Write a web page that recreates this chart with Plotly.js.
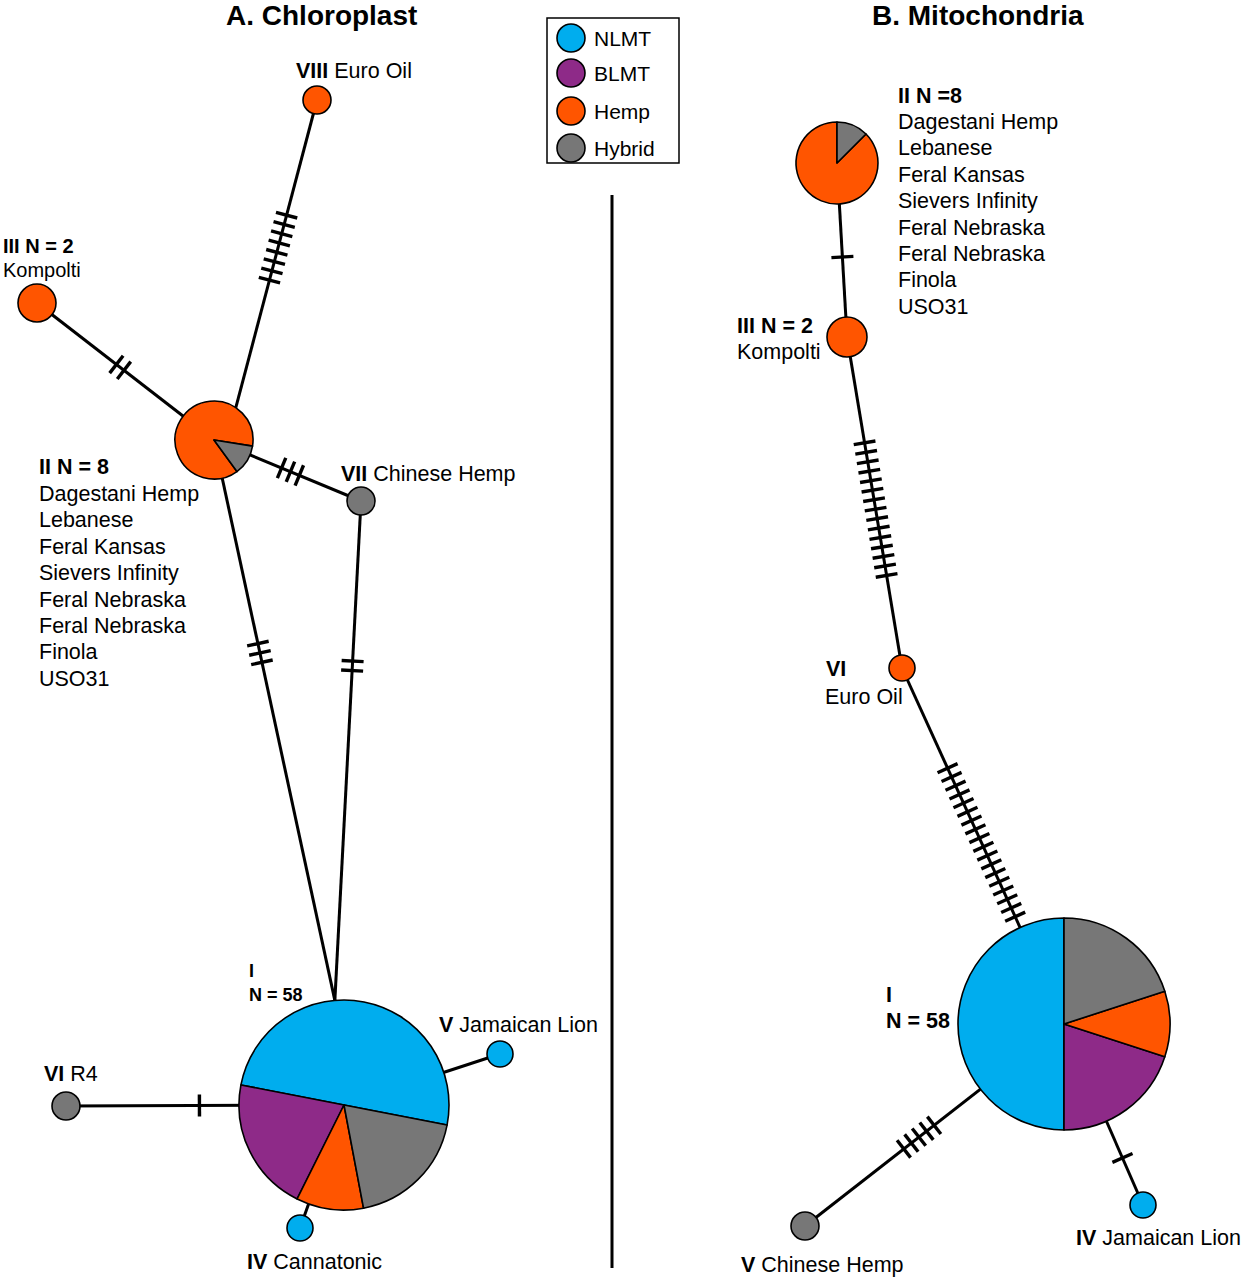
<!DOCTYPE html>
<html>
<head>
<meta charset="utf-8">
<script src="https://cdn.plot.ly/plotly-3.0.1.min.js"></script>
<style>
  html, body { margin: 0; padding: 0; background: #fff; }
  #plot { width: 1247px; height: 1280px; }
</style>
</head>
<body>
<div id="plot"></div>
<script>
const W = 1247
const H = 1280

// groups
const categories = ["NLMT", "BLMT", "Hemp", "Hybrid"]
const catColors = ["#00ADEE", "#8E2A88", "#FF5500", "#777777"]

// A. chloroplast haplotypes, counts per group
const cpHaplotypes = ["I", "II", "III", "IV", "V", "VI", "VII", "VIII"]
const cpNLMT   = [29, 0, 0, 1, 1, 0, 0, 0]
const cpBLMT   = [12, 0, 0, 0, 0, 0, 0, 0]
const cpHemp   = [6, 7, 2, 0, 0, 0, 0, 1]
const cpHybrid = [11, 1, 0, 0, 0, 1, 1, 0]
// edges and number of mutations on each
const cpEdgeFrom  = ["VIII", "III", "II", "II", "VII", "VI", "V", "IV"]
const cpEdgeTo    = ["II", "II", "VII", "I", "I", "I", "I", "I"]
const cpMutations = [8, 2, 3, 3, 2, 1, 0, 0]

// B. mitochondria haplotypes (slice sizes as drawn in the pie)
const mtHaplotypes = ["I", "II", "III", "IV", "V", "VI"]
const mtNLMT   = [30, 0, 0, 1, 0, 0]
const mtBLMT   = [12, 0, 0, 0, 0, 0]
const mtHemp   = [6, 7, 2, 0, 0, 1]
const mtHybrid = [12, 1, 0, 0, 1, 0]
const mtEdgeFrom  = ["II", "III", "VI", "I", "I"]
const mtEdgeTo    = ["III", "VI", "I", "V", "IV"]
const mtMutations = [1, 15, 18, 5, 1]

// members of haplotype II
const hap2Members = ["Dagestani Hemp", "Lebanese", "Feral Kansas", "Sievers Infinity",
                     "Feral Nebraska", "Feral Nebraska", "Finola", "USO31"]

// ---- drawing layout (pixel positions, not data) ----
// [cx, cy, radius, pie rotation]
const cpPos = { I: [344, 1105, 105, 281], II: [214, 440, 39, 144], III: [37, 303, 19, 0],
                IV: [300, 1228, 13, 0], V: [500, 1054, 13, 0], VI: [66, 1106, 14, 0],
                VII: [361, 501, 14, 0], VIII: [317, 100, 14, 0] }
const mtPos = { I: [1064, 1024, 106, 180], II: [837, 163, 41, 45], III: [847, 337, 20, 0],
                IV: [1143, 1205, 13, 0], V: [805, 1226, 14, 0], VI: [902, 668, 13, 0] }
// where along each edge the hatch group sits, and optional end angle on target circle
const cpHatchAt = [0.48, 0.47, 0.52, 0.38, 0.33, 0.48, 0.5, 0.5]
const cpEndAngle = [34, null, null, -5, -5, null, null, null]
const mtHatchAt = [0.54, 0.52, 0.49, 0.56, 0.74]
const mtEndAngle = [null, null, null, null, null]

const FONT = "Liberation Sans, Arial, Helvetica, sans-serif"
const LS = 26.4   // line step of stacked labels

let traces = []
let annotations = []

function addPies(haps, cols, pos) {
    haps.forEach((h, i) => {
        const [cx, cy, r, rot] = pos[h]
        let labels = [], values = [], colors = []
        cols.forEach((c, k) => {
            if (c[i] > 0) { labels.push(categories[k]); values.push(c[i]); colors.push(catColors[k]) }
        })
        traces.push({
            type: "pie", labels: labels, values: values, sort: false,
            direction: "counterclockwise", rotation: rot,
            marker: { colors: colors, line: { color: "#000", width: 1.6 } },
            textinfo: "none", hoverinfo: "label+value", showlegend: false,
            name: h,
            domain: { x: [Math.max(0, (cx - r) / W), Math.min(1, (cx + r) / W)],
                      y: [Math.max(0, 1 - (cy + r) / H), Math.min(1, 1 - (cy - r) / H)] }
        })
    })
}

function addEdges(from, to, muts, hatchAt, endAngle, pos) {
    let lx = [], ly = [], hx = [], hy = []
    const spacing = 9.6, half = 11
    from.forEach((f, i) => {
        const a = pos[f]
        const t = pos[to[i]]
        let b = [t[0], t[1]]
        if (endAngle[i] !== null) {
            const ang = endAngle[i] * Math.PI / 180
            b = [t[0] + t[2] * Math.sin(ang), t[1] - t[2] * Math.cos(ang)]
        }
        lx.push(a[0], b[0], null)
        ly.push(a[1], b[1], null)

        const dx = b[0] - a[0], dy = b[1] - a[1], L = Math.hypot(dx, dy)
        const ux = dx / L, uy = dy / L, px = -uy, py = ux
        const mx = a[0] + dx * hatchAt[i], my = a[1] + dy * hatchAt[i]
        for (let k = 0; k < muts[i]; k++) {
            const off = (k - (muts[i] - 1) / 2) * spacing
            const cx = mx + ux * off, cy = my + uy * off
            hx.push(cx - px * half, cx + px * half, null)
            hy.push(cy - py * half, cy + py * half, null)
        }
    })
    traces.push({ type: "scatter", mode: "lines", x: lx, y: ly, hoverinfo: "skip",
                  showlegend: false, line: { color: "#000", width: 3 } })
    traces.push({ type: "scatter", mode: "lines", x: hx, y: hy, hoverinfo: "skip",
                  showlegend: false, line: { color: "#000", width: 3.4 } })
}

function label(text, x, y, size, anchor) {
    annotations.push({ xref: "x", yref: "y", x: x, y: y, text: text, showarrow: false,
                       xanchor: anchor || "left", yanchor: "middle", borderpad: 0,
                       font: { family: FONT, size: size || 21.5, color: "#000" } })
}

// edges first so the circles sit on top
addEdges(cpEdgeFrom, cpEdgeTo, cpMutations, cpHatchAt, cpEndAngle, cpPos)
addEdges(mtEdgeFrom, mtEdgeTo, mtMutations, mtHatchAt, mtEndAngle, mtPos)
addPies(cpHaplotypes, [cpNLMT, cpBLMT, cpHemp, cpHybrid], cpPos)
addPies(mtHaplotypes, [mtNLMT, mtBLMT, mtHemp, mtHybrid], mtPos)

// legend markers
const legendY = [38, 73, 111, 148]
traces.push({ type: "scatter", mode: "markers", x: [571, 571, 571, 571], y: legendY,
              text: categories, hoverinfo: "text", showlegend: false,
              marker: { size: 28, color: catColors, line: { color: "#000", width: 1.6 } } })
categories.forEach((c, i) => label(c, 593, legendY[i], 21))

// titles
label("<b>A. Chloroplast</b>", 321, 15, 28, "center")
label("<b>B. Mitochondria</b>", 978, 15, 28, "center")

// chloroplast labels
label("<b>VIII</b> Euro Oil", 295, 71)
label("<b>III N = 2</b>", 2, 246, 20)
label("Kompolti", 2, 270, 20)
label("<b>II N = 8</b>", 38, 467)
hap2Members.forEach((m, i) => label(m, 38, 494 + i * LS))
label("<b>VII</b> Chinese Hemp", 340, 474)
label("<b>I</b>", 248, 971, 18)
label("<b>N = 58</b>", 248, 995, 18)
label("<b>V</b> Jamaican Lion", 438, 1025)
label("<b>VI</b> R4", 43, 1074)
label("<b>IV</b> Cannatonic", 246, 1262)

// mitochondria labels
label("<b>II N =8</b>", 897, 96)
hap2Members.forEach((m, i) => label(m, 897, 122 + i * LS))
label("<b>III N = 2</b>", 736, 326)
label("Kompolti", 736, 352)
label("<b>VI</b>", 825, 669)
label("Euro Oil", 824, 697)
label("<b>I</b>", 885, 995)
label("<b>N = 58</b>", 885, 1021)
label("<b>V</b> Chinese Hemp", 740, 1265)
label("<b>IV</b> Jamaican Lion", 1075, 1238)

const layout = {
    width: W, height: H,
    margin: { l: 0, r: 0, t: 0, b: 0 },
    paper_bgcolor: "#fff", plot_bgcolor: "#fff",
    showlegend: false,
    xaxis: { range: [0, W], visible: false, fixedrange: true },
    yaxis: { range: [H, 0], visible: false, fixedrange: true },
    shapes: [
        { type: "line", xref: "x", yref: "y", x0: 612, x1: 612, y0: 195, y1: 1268,
          line: { color: "#000", width: 3 } },
        { type: "rect", xref: "x", yref: "y", x0: 547, x1: 679, y0: 18, y1: 163,
          line: { color: "#000", width: 1.5 }, layer: "below" }
    ],
    annotations: annotations
}

Plotly.newPlot("plot", traces, layout, { displayModeBar: false })
</script>
</body>
</html>
